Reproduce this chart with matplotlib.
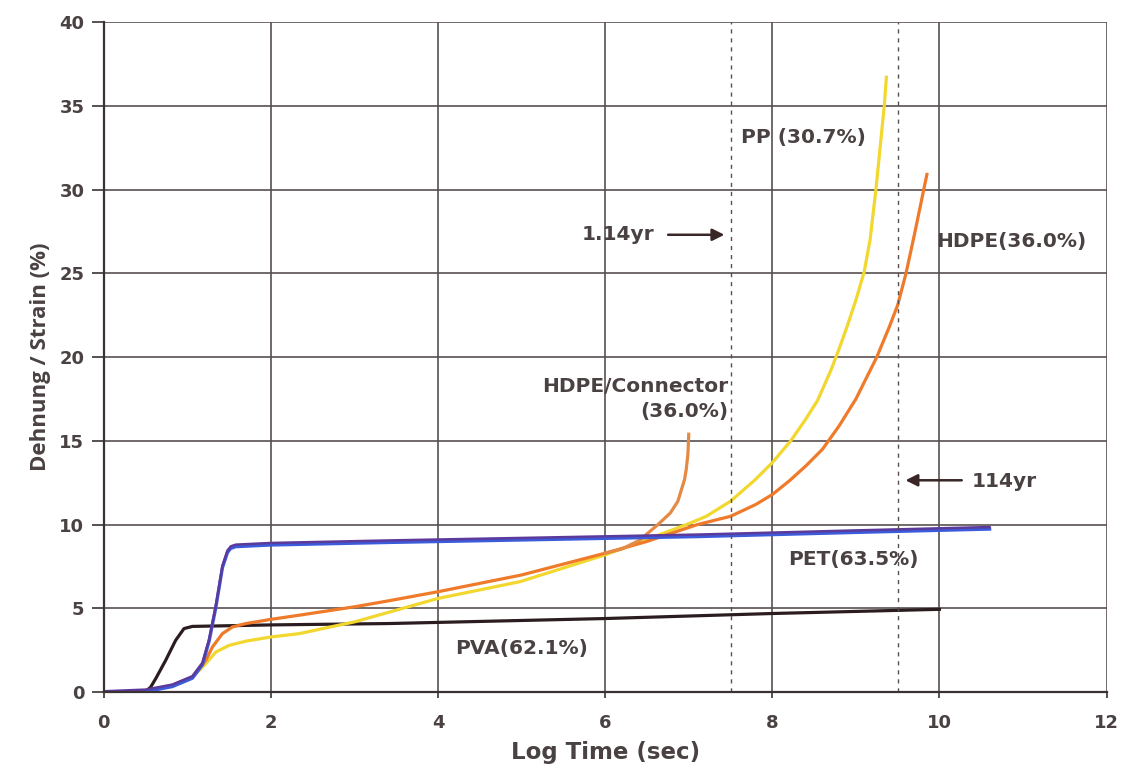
import matplotlib.pyplot as plt

# Werte (x = log Zeit [s], y = Dehnung [%])
pet_x = [0, 0.5, 0.82, 1.06, 1.18, 1.26, 1.34, 1.42, 1.48, 1.52, 1.58, 2.0, 3.4, 5.0, 7.1, 9.0, 10.6]
pet_y = [0, 0.1, 0.4, 0.9, 1.7, 3.1, 5.1, 7.5, 8.4, 8.65, 8.75, 8.85, 9.0, 9.15, 9.35, 9.6, 9.8]

pva_x = [0, 0.5, 0.56, 0.62, 0.74, 0.86, 0.96, 1.06, 2.0, 3.4, 6.0, 8.0, 10.0]
pva_y = [0, 0.05, 0.3, 0.8, 1.9, 3.1, 3.8, 3.93, 4.02, 4.1, 4.4, 4.7, 4.95]

hdpe_x = [0, 0.5, 0.82, 1.06, 1.22, 1.3, 1.42, 1.54, 1.7, 2.0, 2.34, 3.0, 3.4, 4.0, 5.0, 6.0,
          6.5, 7.1, 7.5, 7.8, 8.0, 8.2, 8.4, 8.6, 8.8, 9.0, 9.25, 9.4, 9.5, 9.6, 9.7, 9.8, 9.85]
hdpe_y = [0, 0.05, 0.4, 0.9, 1.9, 2.7, 3.5, 3.9, 4.1, 4.35, 4.6, 5.1, 5.45, 6.0, 7.0, 8.3,
          9.0, 10.0, 10.5, 11.2, 11.8, 12.6, 13.5, 14.5, 15.9, 17.5, 20.0, 21.8, 23.1, 25.0,
          27.3, 29.7, 30.9]

pp_x = [0, 0.5, 0.82, 1.06, 1.22, 1.34, 1.5, 1.7, 2.0, 2.34, 2.62, 3.0, 4.0, 4.98, 6.0, 6.97,
        7.21, 7.5, 7.79, 8.0, 8.22, 8.4, 8.54, 8.7, 8.8, 8.9, 9.0, 9.1, 9.17, 9.24, 9.3,
        9.34, 9.365]
pp_y = [0, 0.05, 0.4, 0.9, 1.7, 2.4, 2.8, 3.05, 3.3, 3.5, 3.8, 4.2, 5.6, 6.6, 8.2, 10.0,
        10.5, 11.4, 12.66, 13.7, 15.0, 16.3, 17.4, 19.2, 20.5, 21.9, 23.4, 25.1, 27.0, 30.0,
        33.0, 35.0, 36.7]

conn_x = [6.0, 6.2, 6.41, 6.63, 6.78, 6.87, 6.95, 6.97, 6.99, 7.0]
conn_y = [8.3, 8.55, 9.07, 10.0, 10.7, 11.4, 12.7, 13.3, 14.2, 15.4]

marker_years = [7.5, 9.5]  # 1.14yr und 114yr

txt = '#4a4242'
grid_c = '#585050'

fig = plt.figure(figsize=(11.28, 7.84), dpi=100)
ax = fig.add_axes([0.092, 0.117, 0.889, 0.855])

ax.plot(pva_x, pva_y, color='#2b1d1f', lw=2.3, solid_joinstyle='round')
ax.plot(pp_x, pp_y, color='#f2d72e', lw=2.3, solid_joinstyle='round')
ax.plot(hdpe_x, hdpe_y, color='#ef7a2a', lw=2.3, solid_joinstyle='round')
ax.plot(conn_x, conn_y, color='#e58a45', lw=2.3, solid_joinstyle='round')
ax.plot(pet_x, [v - 0.06 for v in pet_y], color='#3b5bdb', lw=2.4, solid_joinstyle='round')
ax.plot(pet_x, [v + 0.06 for v in pet_y], color='#5b3a9c', lw=1.8, solid_joinstyle='round')

for xv in marker_years:
    ax.axvline(xv, color=grid_c, lw=1.0, ls=(0, (3, 3.5)))

ax.set_xlim(0, 12)
ax.set_ylim(0, 40)
ax.set_xticks(range(0, 13, 2))
ax.set_yticks(range(0, 41, 5))
ax.grid(True, color=grid_c, lw=1.2)
ax.set_axisbelow(True)
for s in ['top', 'right']:
    ax.spines[s].set_visible(False)
for s in ['left', 'bottom']:
    ax.spines[s].set_color('#3a3232')
    ax.spines[s].set_linewidth(1.6)
ax.tick_params(axis='y', length=9, width=1.2, color='#3a3232', labelsize=13,
               labelcolor=txt, pad=5)
ax.tick_params(axis='x', length=4, width=1.2, color='#3a3232', labelsize=13,
               labelcolor=txt, pad=12)
for lab in ax.get_xticklabels() + ax.get_yticklabels():
    lab.set_fontweight('bold')

ax.set_xlabel('Log Time (sec)', fontsize=16.5, color=txt, fontweight='bold', labelpad=6)
ax.set_ylabel('Dehnung / Strain (%)', fontsize=16, color=txt, fontweight='bold',
              family='Open Sans', labelpad=6)

kw = dict(fontsize=14.5, color=txt, fontweight='bold', va='center')
ax.text(8.37, 33.1, 'PP (30.7%)', ha='center', **kw)
ax.text(10.86, 26.9, 'HDPE(36.0%)', ha='center', **kw)
ax.text(7.47, 17.5, 'HDPE/Connector\n(36.0%)', ha='right', multialignment='right',
        linespacing=1.35, **kw)
ax.text(8.97, 7.9, 'PET(63.5%)', ha='center', **kw)
ax.text(5.0, 2.6, 'PVA(62.1%)', ha='center', **kw)
ax.text(6.15, 27.3, '1.14yr', ha='center', **kw)
ax.text(10.78, 12.6, '114yr', ha='center', **kw)

arr = dict(arrowstyle='-|>', color='#3a2626', lw=1.8, mutation_scale=18)
ax.annotate('', xy=(7.46, 27.3), xytext=(6.72, 27.3), arrowprops=arr)
ax.annotate('', xy=(9.56, 12.65), xytext=(10.3, 12.65), arrowprops=arr)

fig.savefig('out.png', dpi=100)
